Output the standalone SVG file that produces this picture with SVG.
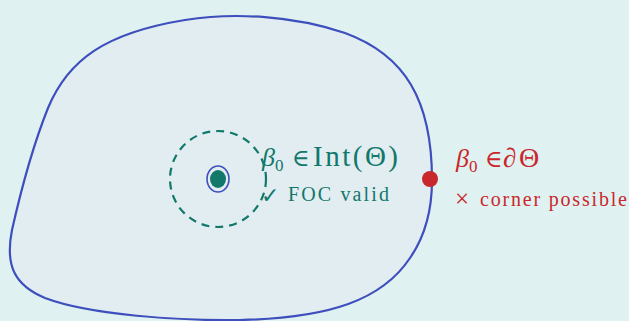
<svg xmlns="http://www.w3.org/2000/svg" width="629" height="321" viewBox="0 0 629 321">
<style>
.serif{font-family:"Liberation Serif","DejaVu Serif",serif}
.teal{fill:#11786a}
.red{fill:#c8282c}
</style>
<rect width="629" height="321" fill="#e0f1f1"/>
<g id="theta">
<path d="M 432,180 C 432,100 405,55 345,33 C 295,16 235,12 185,20 C 105,33 68,60 48,108 C 32,148 21,190 12,230 C 5,265 14,285 45,298 C 90,315 180,321 240,320 C 330,318 382,300 410,258 C 428,232 432,205 432,180 Z" fill="#e2edf2" stroke="#3d4fbd" stroke-width="2.2"/>
</g>
<g id="interior">
<circle cx="218" cy="179" r="48" fill="none" stroke="#11786a" stroke-width="2.2" stroke-dasharray="8,6"/>
<ellipse cx="218" cy="179" rx="11" ry="13" fill="none" stroke="#3d4fbd" stroke-width="1.6"/>
<ellipse cx="218" cy="179" rx="8" ry="9" fill="#11786a"/>
<text class="serif teal" x="262" y="166" font-size="26"><tspan font-style="italic">β</tspan><tspan font-size="17" dy="5">0</tspan></text>
<text class="serif teal" x="292" y="166" font-size="24">∈</text>
<text class="serif teal" x="313" y="166" font-size="29" textLength="85" lengthAdjust="spacing">Int(Θ)</text>
<text x="261" y="203" font-size="22" font-family="'DejaVu Sans',sans-serif" class="teal">✓</text>
<text class="serif teal" x="288" y="201" font-size="20" textLength="101" lengthAdjust="spacing">FOC valid</text>
</g>
<g id="boundary">
<circle cx="430" cy="179" r="8" fill="#c8282c"/>
<text class="serif red" x="456" y="167" font-size="26"><tspan font-style="italic">β</tspan><tspan font-size="17" dy="5">0</tspan></text>
<text class="serif red" x="485" y="167" font-size="24">∈</text>
<text class="serif red" x="503" y="167" font-size="27" font-style="italic">∂</text>
<text class="serif red" x="519" y="167" font-size="28">Θ</text>
<text class="serif red" x="455" y="207" font-size="25">×</text>
<text class="serif red" x="480" y="206" font-size="20" textLength="147" lengthAdjust="spacing">corner possible</text>
</g>
</svg>
